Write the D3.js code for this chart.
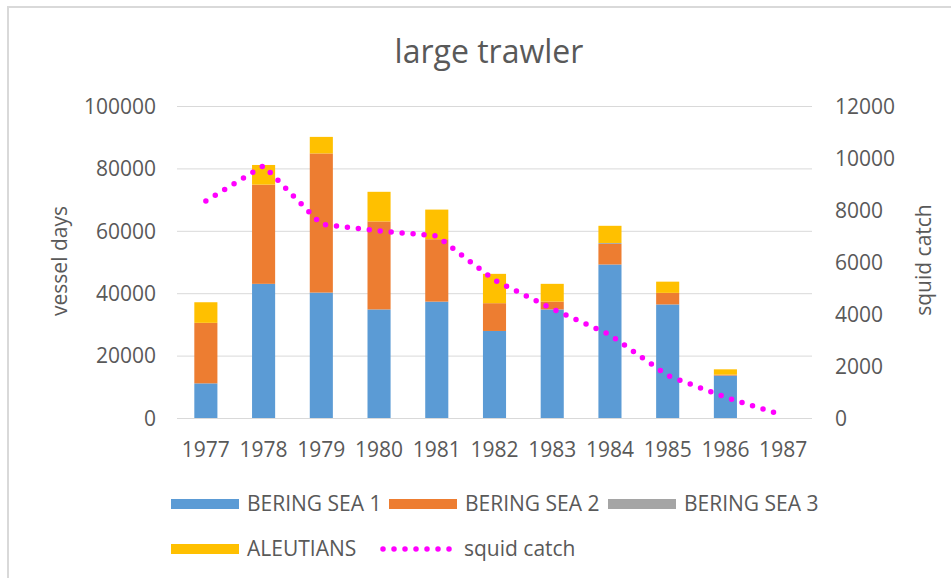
<!DOCTYPE html>
<html>
<head>
<meta charset="utf-8">
<script src="https://cdn.jsdelivr.net/npm/d3@7.9.0/dist/d3.min.js"></script>
<style>
  html, body { margin: 0; padding: 0; background: #fff; }
  svg { display: block; font-family: 'Open Sans', sans-serif; }
  text { fill: #595959; }
</style>
</head>
<body>
<svg id="chart" width="951" height="578"></svg>
<script>
const years = ['1977', '1978', '1979', '1980', '1981', '1982', '1983', '1984', '1985', '1986', '1987'];
const beringSea1 = [11100, 43000, 40200, 34800, 37300, 27900, 34800, 49200, 36400, 13600, 0];
const beringSea2 = [19400, 31800, 44600, 28200, 20000, 8900, 2500, 6600, 3700, 300, 0];
const beringSea3 = [0, 0, 0, 0, 0, 0, 0, 300, 0, 0, 0];
const aleutians = [6600, 6300, 5300, 9500, 9500, 9400, 5700, 5500, 3600, 1700, 0];
const squidCatch = [8350, 9700, 7450, 7200, 7000, 5300, 4200, 3200, 1630, 800, 100];

const leftTicks = [0, 20000, 40000, 60000, 80000, 100000];
const rightTicks = [0, 2000, 4000, 6000, 8000, 10000, 12000];

const seriesNames = ['BERING SEA 1', 'BERING SEA 2', 'BERING SEA 3', 'ALEUTIANS'];
const seriesColors = ['#5b9bd5', '#ed7d31', '#a5a5a5', '#ffc000'];
const lineColor = '#ff00ff';

const svg = d3.select('#chart');
const plot = { left: 177, right: 812, top: 106, bottom: 418 };
const fontSize = 21;

// chart border (only top/left visible in the picture)
svg.append('rect')
  .attr('x', 8).attr('y', 7)
  .attr('width', 960).attr('height', 600)
  .attr('fill', 'none')
  .attr('stroke', '#d9d9d9')
  .attr('stroke-width', 2);

svg.append('text')
  .attr('x', 489).attr('y', 63)
  .attr('text-anchor', 'middle')
  .attr('font-size', 32)
  .text('large trawler');

const x = d3.scaleBand().domain(years).range([plot.left, plot.right]).paddingInner(0.6).paddingOuter(0.3);
const yLeft = d3.scaleLinear().domain([0, 100000]).range([plot.bottom, plot.top]);
const yRight = d3.scaleLinear().domain([0, 12000]).range([plot.bottom, plot.top]);

// gridlines
svg.append('g')
  .selectAll('line')
  .data(leftTicks)
  .join('line')
  .attr('x1', plot.left).attr('x2', plot.right)
  .attr('y1', (d) => yLeft(d) + 0.5).attr('y2', (d) => yLeft(d) + 0.5)
  .attr('stroke', '#d9d9d9')
  .attr('stroke-width', 1);

function styleAxisText(g) {
  g.select('.domain').remove();
  g.selectAll('text')
    .attr('font-size', fontSize)
    .attr('font-family', 'Open Sans')
    .attr('fill', '#595959');
}

// left axis
svg.append('g')
  .attr('transform', `translate(${plot.left - 21},0)`)
  .call(d3.axisLeft(yLeft).tickValues(leftTicks).tickSize(0).tickPadding(0).tickFormat(d3.format('d')))
  .call(styleAxisText)
  .selectAll('text').attr('dy', '0.35em');

// right axis
svg.append('g')
  .attr('transform', `translate(${plot.right + 23},0)`)
  .call(d3.axisRight(yRight).tickValues(rightTicks).tickSize(0).tickPadding(0).tickFormat(d3.format('d')))
  .call(styleAxisText)
  .selectAll('text').attr('dy', '0.35em');

// bottom axis labels
svg.append('g')
  .attr('transform', `translate(0,${plot.bottom})`)
  .call(d3.axisBottom(x).tickSize(0).tickPadding(24))
  .call(styleAxisText);

// axis titles
svg.append('text')
  .attr('transform', 'translate(67,261) rotate(-90)')
  .attr('text-anchor', 'middle')
  .attr('font-size', fontSize)
  .text('vessel days');

svg.append('text')
  .attr('transform', 'translate(931,260) rotate(-90)')
  .attr('text-anchor', 'middle')
  .attr('font-size', fontSize)
  .text('squid catch');

// stacked bars
const rows = years.map((year, i) => ({
  year,
  'BERING SEA 1': beringSea1[i],
  'BERING SEA 2': beringSea2[i],
  'BERING SEA 3': beringSea3[i],
  'ALEUTIANS': aleutians[i],
}));
const stacked = d3.stack().keys(seriesNames)(rows);

svg.append('g')
  .selectAll('g')
  .data(stacked)
  .join('g')
  .attr('fill', (d, i) => seriesColors[i])
  .selectAll('rect')
  .data((d) => d)
  .join('rect')
  .attr('x', (d) => x(d.data.year))
  .attr('width', x.bandwidth())
  .attr('y', (d) => yLeft(d[1]))
  .attr('height', (d) => yLeft(d[0]) - yLeft(d[1]));

// squid catch dotted line
const line = d3.line()
  .x((d, i) => x(years[i]) + x.bandwidth() / 2)
  .y((d) => yRight(d));

svg.append('path')
  .datum(squidCatch)
  .attr('d', line)
  .attr('fill', 'none')
  .attr('stroke', lineColor)
  .attr('stroke-width', 5.5)
  .attr('stroke-linecap', 'round')
  .attr('stroke-dasharray', '0 11');

// legend
const legendItems = [
  { name: seriesNames[0], color: seriesColors[0], x: 171, y: 504 },
  { name: seriesNames[1], color: seriesColors[1], x: 389, y: 504 },
  { name: seriesNames[2], color: seriesColors[2], x: 608, y: 504 },
  { name: seriesNames[3], color: seriesColors[3], x: 171, y: 549 },
];

const legend = svg.append('g');
legendItems.forEach((item) => {
  legend.append('rect')
    .attr('x', item.x).attr('y', item.y - 5)
    .attr('width', 68).attr('height', 10)
    .attr('fill', item.color);
  legend.append('text')
    .attr('x', item.x + 76).attr('y', item.y)
    .attr('dy', '0.35em')
    .attr('font-size', fontSize)
    .text(item.name);
});

legend.append('line')
  .attr('x1', 383).attr('x2', 456)
  .attr('y1', 549).attr('y2', 549)
  .attr('stroke', lineColor)
  .attr('stroke-width', 5.5)
  .attr('stroke-linecap', 'round')
  .attr('stroke-dasharray', '0 11');
legend.append('text')
  .attr('x', 464).attr('y', 549)
  .attr('dy', '0.35em')
  .attr('font-size', fontSize)
  .text('squid catch');
</script>
</body>
</html>
